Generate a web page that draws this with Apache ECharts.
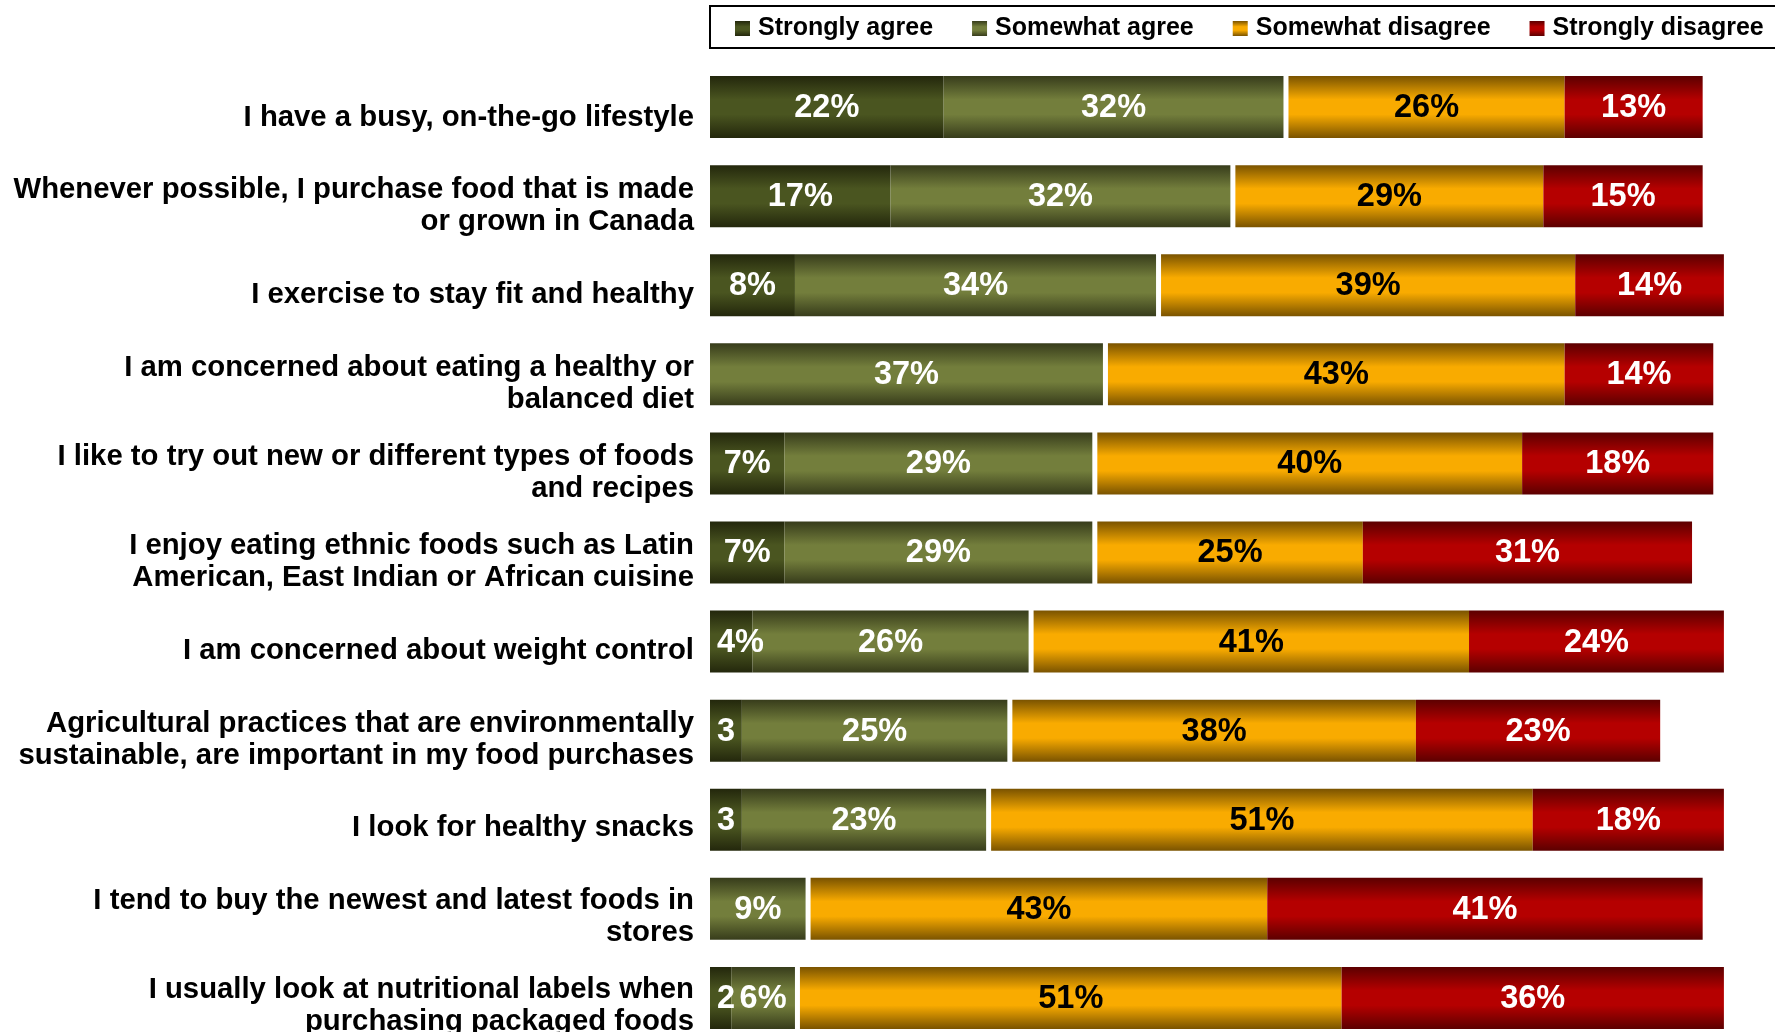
<!DOCTYPE html>
<html>
<head>
<meta charset="utf-8">
<script src="https://cdn.jsdelivr.net/npm/echarts@6/dist/echarts.min.js"></script>
<style>
  html, body { margin: 0; padding: 0; background: #fff; overflow: hidden; }
  #chart { width: 1775px; height: 1060px; }
</style>
</head>
<body>
<div id="chart"></div>
<script>
// Survey statements, top to bottom
const categories = [
  'I have a busy, on-the-go lifestyle',
  'Whenever possible, I purchase food that is made\nor grown in Canada',
  'I exercise to stay fit and healthy',
  'I am concerned about eating a healthy or\nbalanced diet',
  'I like to try out new or different types of foods\nand recipes',
  'I enjoy eating ethnic foods such as Latin\nAmerican, East Indian or African cuisine',
  'I am concerned about weight control',
  'Agricultural practices that are environmentally\nsustainable, are important in my food purchases',
  'I look for healthy snacks',
  'I tend to buy the newest and latest foods in\nstores',
  'I usually look at nutritional labels when\npurchasing packaged foods'
];

// Share of respondents (%) per answer
const stronglyAgree     = [22, 17,  8,  0,  7,  7,  4,  3,  3,  0,  2];
const somewhatAgree     = [32, 32, 34, 37, 29, 29, 26, 25, 23,  9,  6];
const somewhatDisagree  = [26, 29, 39, 43, 40, 25, 41, 38, 51, 43, 51];
const stronglyDisagree  = [13, 15, 14, 14, 18, 31, 24, 23, 18, 41, 36];

const seriesNames = ['Strongly agree', 'Somewhat agree', 'Somewhat disagree', 'Strongly disagree'];
const seriesValues = [stronglyAgree, somewhatAgree, somewhatDisagree, stronglyDisagree];

const FONT = '"Liberation Sans", Arial, Helvetica, sans-serif';
const LABEL_SIZE = 32.5;
const GROUP_GAP = 5;        // white gap (px) between the agree and disagree blocks
const BAR_RATIO = 0.696;    // bar thickness relative to the category band
const LABEL_INSET = 7;      // minimum distance of a value label from its bar's left end

const GRID_LEFT = 710, GRID_WIDTH = 1062, GRID_TOP = 62.5, GRID_HEIGHT = 980;

const measureCtx = document.createElement('canvas').getContext('2d');
measureCtx.font = 'bold ' + LABEL_SIZE + 'px ' + FONT;

function shaded(edge, mid) {
  return {
    type: 'linear', x: 0, y: 0, x2: 0, y2: 1,
    colorStops: [
      { offset: 0, color: edge },
      { offset: 0.38, color: mid },
      { offset: 0.62, color: mid },
      { offset: 1, color: edge }
    ]
  };
}

const fills = [
  shaded('#23270c', '#4a5520'),
  shaded('#373c1b', '#737e3c'),
  shaded('#7a5300', '#f9ab00'),
  shaded('#5c0000', '#b50000')
];
const labelColors = ['#ffffff', '#ffffff', '#000000', '#ffffff'];

function labelText(v) {
  return v >= 4 ? v + '%' : String(v);
}

const series = seriesValues.map((vals, k) => {
  const data = vals.map((v, i) => {
    let start = 0;
    for (let j = 0; j < k; j++) start += seriesValues[j][i];
    return [start, start + v, i, v];
  });
  return {
    name: seriesNames[k],
    type: 'custom',
    xAxisIndex: 0,
    yAxisIndex: 0,
    itemStyle: { color: fills[k] },
    dimensions: ['start', 'end', 'row', 'value'],
    encode: { x: [0, 1], y: 2 },
    data: data,
    renderItem: function (params, api) {
      const v = api.value(3);
      if (!v) return null;
      const row = api.value(2);
      const a = api.coord([api.value(0), row]);
      const b = api.coord([api.value(1), row]);
      const h = api.size([0, 1])[1] * BAR_RATIO;
      const shift = k >= 2 ? GROUP_GAP : 0;
      const x0 = a[0] + shift;
      const w = b[0] - a[0];
      const txt = labelText(v);
      const tw = measureCtx.measureText(txt).width;
      const tx = Math.max(x0 + w / 2 - tw / 2, x0 + LABEL_INSET);
      return {
        type: 'group',
        children: [
          {
            type: 'rect',
            shape: { x: x0, y: a[1] - h / 2, width: w, height: h },
            style: { fill: fills[k] }
          },
          {
            type: 'text',
            z2: 10,
            style: {
              text: txt,
              x: tx,
              y: a[1] + 1,
              align: 'left',
              verticalAlign: 'middle',
              fill: labelColors[k],
              fontSize: LABEL_SIZE,
              fontWeight: 'bold',
              fontFamily: FONT
            }
          }
        ]
      };
    }
  };
});

const chart = echarts.init(document.getElementById('chart'), null, { renderer: 'canvas' });
chart.setOption({
  backgroundColor: '#ffffff',
  animation: false,
  legend: {
    data: seriesNames.map(n => ({ name: n, icon: 'rect' })),
    left: 710,
    top: 6,
    width: 1200,
    itemWidth: 15,
    itemHeight: 15,
    itemGap: 39,
    padding: [10, 40, 7, 25],
    borderColor: '#000',
    borderWidth: 2,
    backgroundColor: '#fff',
    textStyle: { fontSize: 25, fontWeight: 'bold', color: '#000', fontFamily: FONT, padding: [0, 0, 0, 3] }
  },
  grid: [
    // bars
    { left: GRID_LEFT, width: GRID_WIDTH, top: GRID_TOP, height: GRID_HEIGHT },
    // statement labels sit a few pixels lower than the bar centres
    { left: GRID_LEFT, width: GRID_WIDTH, top: 73, height: 977.5 }
  ],
  xAxis: [
    { gridIndex: 0, type: 'value', min: 0, max: 100, show: false },
    { gridIndex: 1, type: 'value', min: 0, max: 100, show: false }
  ],
  yAxis: [
    {
      gridIndex: 0,
      type: 'category',
      data: categories,
      inverse: true,
      axisLine: { show: false },
      axisTick: { show: false },
      splitLine: { show: false },
      axisLabel: { show: false }
    },
    {
      gridIndex: 1,
      type: 'category',
      data: categories,
      inverse: true,
      axisLine: { show: false },
      axisTick: { show: false },
      splitLine: { show: false },
      axisLabel: {
        margin: 16,
        fontSize: 29.3,
        fontWeight: 'bold',
        lineHeight: 32,
        color: '#000',
        fontFamily: FONT,
        align: 'right'
      }
    }
  ],
  series: series
});
</script>
</body>
</html>
